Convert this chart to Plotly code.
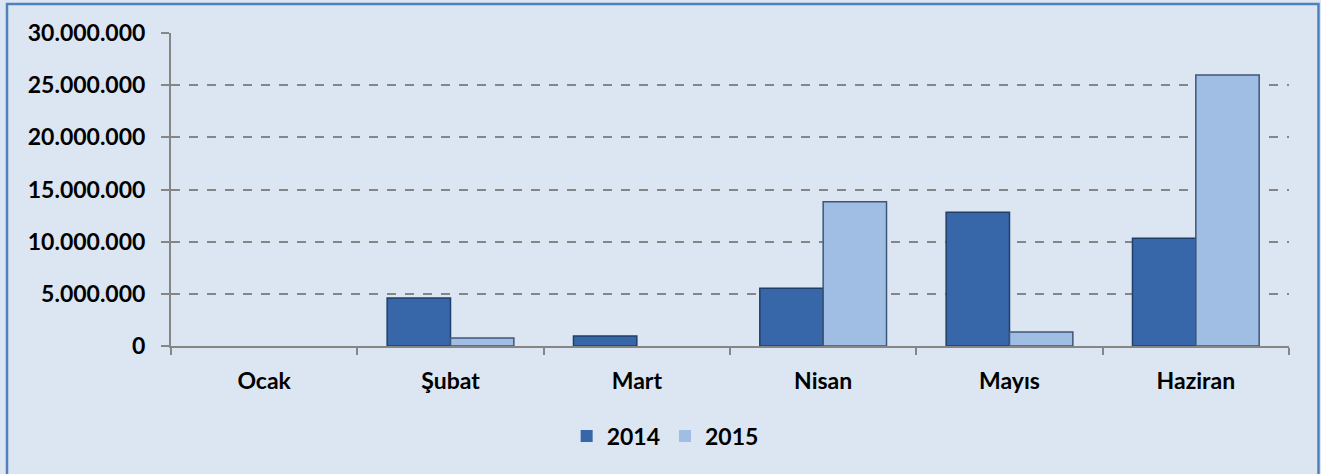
import plotly.graph_objects as go

months = ["Ocak", "Şubat", "Mart", "Nisan", "Mayıs", "Haziran"]
series_names = ["2014", "2015"]
values_2014 = [0, 4600000, 950000, 5530000, 12810000, 10320000]
values_2015 = [0, 770000, 0, 13830000, 1340000, 25970000]
y_ticks = [0, 5000000, 10000000, 15000000, 20000000, 25000000, 30000000]

BG = "#dce6f2"
FONT = "Lato"
FS = 23


def outline_widths(vals):
    return [0 if v == 0 else 1.5 for v in vals]


fig = go.Figure()
fig.add_trace(go.Bar(
    name=series_names[0], x=months, y=values_2014,
    marker=dict(color="#3767a8", line=dict(color="#1f3f6b", width=outline_widths(values_2014))),
))
fig.add_trace(go.Bar(
    name=series_names[1], x=months, y=values_2015,
    marker=dict(color="#a0bde3", line=dict(color="#3f5678", width=outline_widths(values_2015))),
))

fig.update_layout(
    width=1321, height=474,
    margin=dict(l=171, r=32, t=33, b=128),
    paper_bgcolor=BG, plot_bgcolor=BG,
    separators=",.",
    barmode="group", bargap=0.32, bargroupgap=0,
    font=dict(family=FONT, size=FS, color="#000000"),
    showlegend=True,
    legend=dict(orientation="h", x=0.442, xanchor="center", y=-0.2875, yanchor="middle",
                font=dict(family=FONT, size=FS, color="#000000", weight="bold"),
                bgcolor="rgba(0,0,0,0)", itemwidth=30, traceorder="normal"),
    shapes=[dict(type="rect", xref="paper", yref="paper",
                 x0=(7 - 171) / 1118, x1=(1318.5 - 171) / 1118,
                 y0=-0.6, y1=(346 - 4) / 313,
                 line=dict(color="#4f81bd", width=2.5), fillcolor="rgba(0,0,0,0)",
                 layer="below")],
)

fig.update_xaxes(
    type="category", tickson="boundaries", ticks="outside", ticklen=7,
    tickcolor="#868686", tickwidth=2,
    showline=True, linecolor="#868686", linewidth=2,
    showgrid=False, ticklabelstandoff=13,
    tickfont=dict(family=FONT, size=FS, color="#000000", weight="bold"),
)
fig.update_yaxes(
    range=[0, 30000000], tickvals=y_ticks, tickformat=",d",
    ticks="outside", ticklen=8, tickcolor="#868686", tickwidth=2,
    showline=True, linecolor="#868686", linewidth=2,
    showgrid=True, gridcolor="#868686", gridwidth=1.5, griddash="dash",
    zeroline=False, ticklabelstandoff=11,
    tickfont=dict(family=FONT, size=FS, color="#000000", weight="bold"),
)

fig.write_html("out.html", config={"displayModeBar": False},
               post_script="document.body.style.margin='0';document.body.style.overflow='hidden';")
